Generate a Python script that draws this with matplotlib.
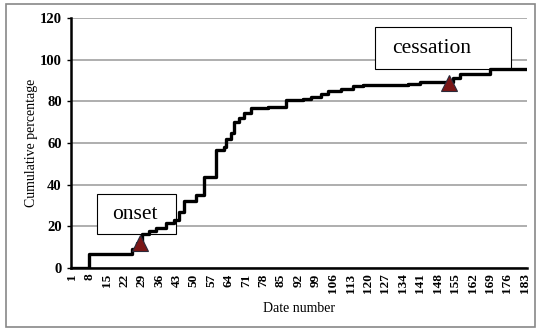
import matplotlib.pyplot as plt
from matplotlib.patches import Rectangle

# step change points (day, cumulative %)
change_days = [1, 8, 25, 27, 29, 32, 35, 39, 42, 44, 46, 51, 54, 59, 62, 63, 65, 66,
               68, 70, 73, 80, 87, 94, 97, 101, 104, 109, 114, 118, 136, 141, 154,
               157, 169, 183]
cum_pct = [0, 6.5, 9, 12, 16.5, 17.5, 19, 21.5, 23, 27, 32, 35, 43.5, 56.5, 58, 62,
           65, 70, 72, 74.5, 77, 77.5, 80.5, 81, 82, 83.5, 85, 86, 87.5, 88, 88.5,
           89.5, 91, 93, 95.5, 95.5]

tick_days = list(range(1, 184, 7))

onset_day, onset_val = 28.5, 12
cess_day, cess_val = 152.5, 89

plt.rcParams['font.family'] = ['Liberation Serif', 'DejaVu Serif']

fig = plt.figure(figsize=(5.37, 3.34), dpi=100)
fig.patches.append(Rectangle((0.011, 0.02), 0.985, 0.967, transform=fig.transFigure,
                             fill=False, edgecolor='#888888', linewidth=1.2))
ax = fig.add_axes([0.132, 0.198, 0.849, 0.748])

ax.plot(change_days, cum_pct, drawstyle='steps-post', color='black', linewidth=2.4,
        solid_joinstyle='round', zorder=3)

# onset / cessation markers
ax.plot([onset_day, cess_day], [onset_val, cess_val], linestyle='none', marker='^',
        markersize=12, markerfacecolor='#7a1616', markeredgecolor='#2a2a3a',
        markeredgewidth=0.8, zorder=4)

# label boxes (drawn under the curve, over the grid)
ax.add_patch(Rectangle((11.0, 16.3), 31.8, 19.2, facecolor='white', edgecolor='black',
                       linewidth=0.8, zorder=2))
ax.text(26.5, 25.6, 'onset', fontsize=15.5, ha='center', va='center', zorder=2.5)
ax.add_patch(Rectangle((122.8, 95.4), 54.8, 20.1, facecolor='white', edgecolor='black',
                       linewidth=0.8, zorder=2))
ax.text(145.5, 105.6, 'cessation', fontsize=15.5, ha='center', va='center', zorder=2.5)

ax.set_xlim(0.6, 183.8)
ax.set_ylim(0, 120)
ax.set_yticks(range(0, 121, 20))
ax.set_xticks(tick_days)
ax.set_xticklabels([str(d) for d in tick_days], rotation=90)
ax.yaxis.grid(True, color='#a8a8a8', linewidth=1.3)
ax.set_axisbelow(True)

for side in ['top', 'right']:
    ax.spines[side].set_visible(False)
for side in ['left', 'bottom']:
    ax.spines[side].set_linewidth(1.8)
ax.tick_params(axis='y', labelsize=10.5, length=3, width=1)
ax.tick_params(axis='x', labelsize=9.5, length=0, pad=4)
for lab in ax.get_xticklabels() + ax.get_yticklabels():
    lab.set_fontweight('bold')

ax.set_ylabel('Cumulative percentage', fontsize=10, labelpad=1)
ax.set_xlabel('Date number', fontsize=10, labelpad=6)

fig.savefig('out.png', dpi=100)
